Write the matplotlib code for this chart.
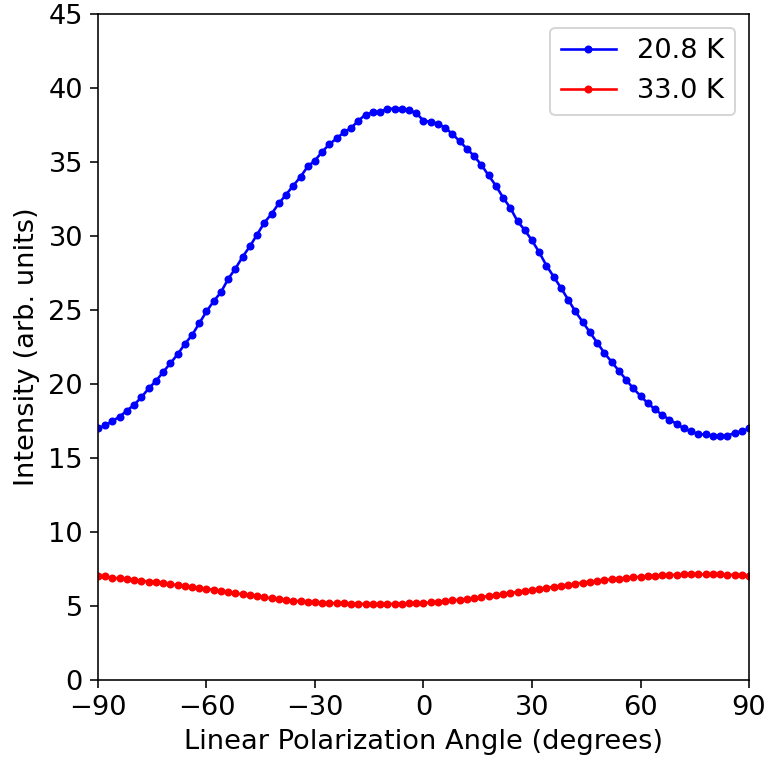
import numpy as np
import matplotlib
matplotlib.use('Agg')
import matplotlib.pyplot as plt

# polarization angles, 2 degree steps
angle = np.arange(-90, 91, 2)

# intensity at 20.8 K
i_208 = [17.0, 17.2, 17.5, 17.8, 18.2, 18.6, 19.1, 19.7, 20.2, 20.8,
         21.4, 22.0, 22.7, 23.3, 24.1, 24.9, 25.6, 26.2, 27.1, 27.8,
         28.6, 29.3, 30.1, 30.9, 31.5, 32.2, 32.8, 33.4, 34.0, 34.7,
         35.1, 35.7, 36.2, 36.6, 37.0, 37.3, 37.8, 38.2, 38.35, 38.4,
         38.6, 38.6, 38.6, 38.5, 38.3, 37.8, 37.7, 37.6, 37.3, 36.9,
         36.4, 35.9, 35.4, 34.8, 34.1, 33.4, 32.6, 31.9, 31.0, 30.4,
         29.7, 28.9, 28.0, 27.25, 26.5, 25.7, 24.9, 24.2, 23.5, 22.8,
         22.1, 21.5, 20.9, 20.3, 19.7, 19.2, 18.7, 18.3, 17.9, 17.6,
         17.3, 17.0, 16.8, 16.6, 16.6, 16.5, 16.5, 16.5, 16.7, 16.8,
         17.0]

# intensity at 33.0 K
i_330 = [7.03, 7.0, 6.9, 6.87, 6.82, 6.78, 6.71, 6.64, 6.6, 6.55,
         6.49, 6.4, 6.33, 6.28, 6.2, 6.15, 6.1, 6.03, 5.92, 5.86,
         5.79, 5.72, 5.66, 5.59, 5.52, 5.45, 5.4, 5.36, 5.32, 5.29,
         5.27, 5.22, 5.2, 5.18, 5.18, 5.16, 5.14, 5.14, 5.12, 5.12,
         5.14, 5.14, 5.16, 5.18, 5.2, 5.19, 5.25, 5.29, 5.34, 5.38,
         5.43, 5.47, 5.54, 5.6, 5.68, 5.74, 5.81, 5.88, 5.95, 6.01,
         6.08, 6.15, 6.22, 6.31, 6.37, 6.44, 6.51, 6.58, 6.64, 6.69,
         6.76, 6.8, 6.85, 6.89, 6.94, 6.98, 7.03, 7.05, 7.07, 7.09,
         7.12, 7.14, 7.14, 7.14, 7.14, 7.14, 7.14, 7.12, 7.09, 7.07,
         7.05]

plt.rcParams['font.size'] = 13.6
plt.rcParams['xtick.major.size'] = 4
plt.rcParams['ytick.major.size'] = 4

fig = plt.figure(figsize=(769 / 144, 761 / 144), dpi=144)
ax = fig.add_axes([0.1274, 0.1064, 0.8466, 0.8752])

ax.plot(angle, i_208, 'b.-', lw=1.3, ms=6, label='20.8 K')
ax.plot(angle, i_330, 'r.-', lw=1.3, ms=6, label='33.0 K')

ax.set_xlim(-90, 90)
ax.set_ylim(0, 45)
ax.set_xticks(np.arange(-90, 91, 30))
ax.set_yticks(np.arange(0, 46, 5))
ax.set_xlabel('Linear Polarization Angle (degrees)')
ax.set_ylabel('Intensity (arb. units)')
ax.legend(loc='upper right')

fig.savefig('out.png', dpi=144)
